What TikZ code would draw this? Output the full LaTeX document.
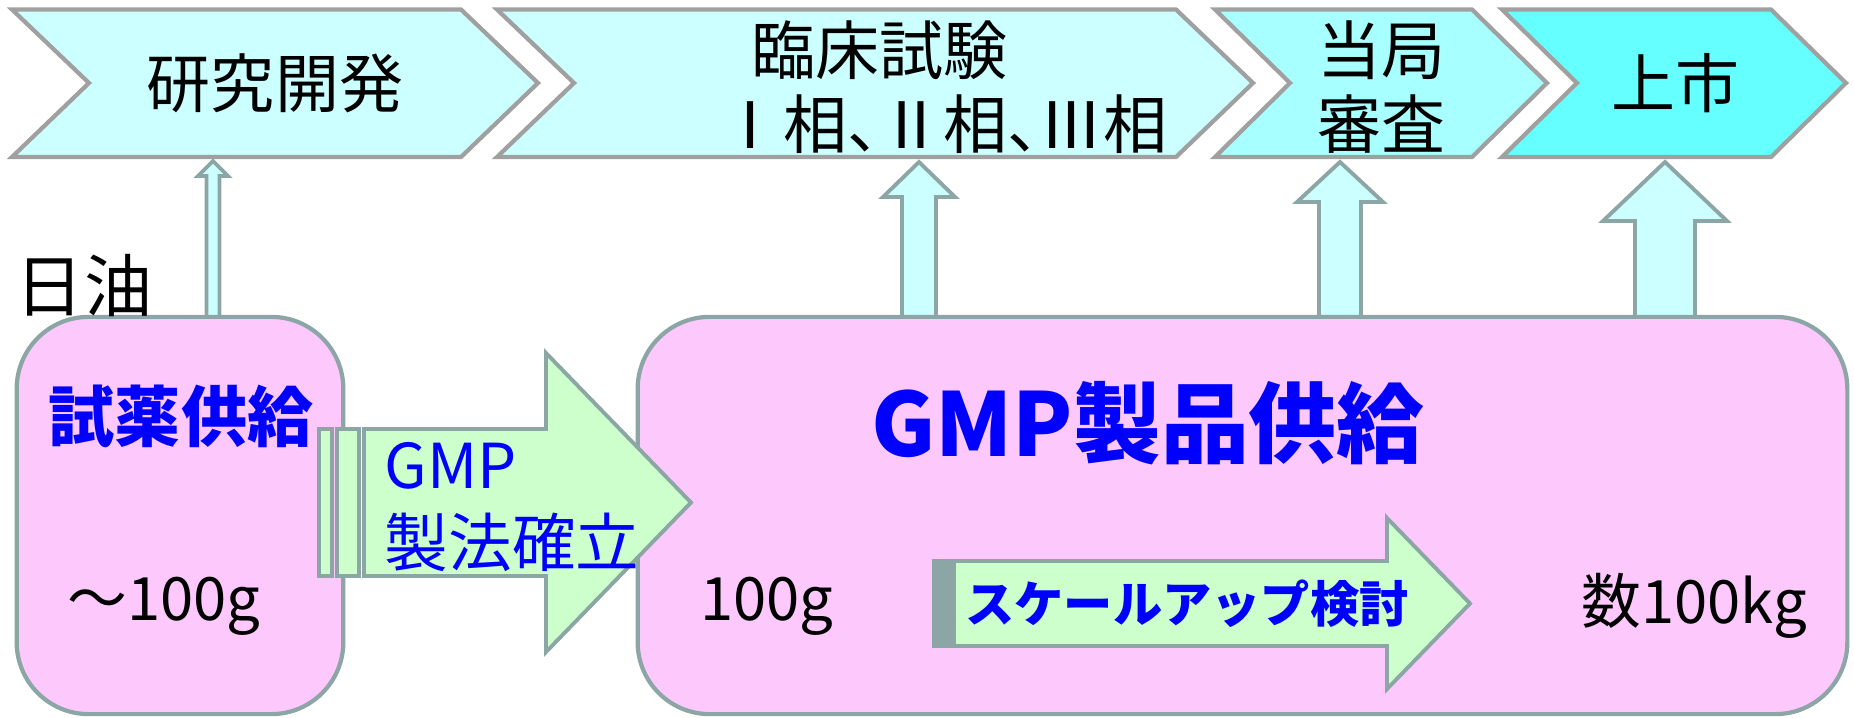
\documentclass[tikz,border=0pt]{standalone}
\usepackage{fontspec}
\setmainfont{Noto Sans CJK JP}
\usetikzlibrary{calc}
\definecolor{chevline}{HTML}{A0A0A0}
\definecolor{cyanA}{HTML}{CCFFFF}
\definecolor{cyanB}{HTML}{A8FFFF}
\definecolor{cyanC}{HTML}{66FFFF}
\definecolor{boxline}{HTML}{8CA5A5}
\definecolor{pinkfill}{HTML}{FDC9FD}
\definecolor{greenfill}{HTML}{CCFFCC}
\definecolor{txtblue}{HTML}{0000FF}
\newcommand\blockup[5]{%
  \draw[uparrow] ($(#1)+(-#3,0)$) -- ($(#2)+(-#3,#5)$) -- ($(#2)+(-#4,#5)$) -- (#2)
    -- ($(#2)+(#4,#5)$) -- ($(#2)+(#3,#5)$) -- ($(#1)+(#3,0)$) -- cycle;}
\newcommand\fsz[1]{\fontsize{#1}{1.2\dimexpr#1pt\relax}\selectfont}
\begin{document}
\begin{tikzpicture}[x=0.01cm,y=-0.01cm,
  chev/.style={draw=chevline,line width=1.2pt,line join=miter},
  uparrow/.style={draw=boxline,fill=cyanA,line width=1.1pt,line join=miter},
  garrow/.style={draw=boxline,fill=greenfill,line width=1.1pt,line join=miter},
  box/.style={rectangle,draw=boxline,fill=pinkfill,line width=1.2pt,rounded corners=0.72cm,minimum height=3.97cm},
  lbl/.style={inner sep=0pt,text=black},
  blbl/.style={inner sep=0pt,text=txtblue},
  chevtext/.style={lbl,font=\fsz{18.2}}]
\useasboundingbox (0,0) rectangle (1854,718);
% chevrons
\draw[chev,fill=cyanA] (12,9.5) -- (461,9.5) -- (538,83) -- (461,157) -- (12,157) -- (89,83) -- cycle;
\draw[chev,fill=cyanA] (497,9.5) -- (1176,9.5) -- (1253,83) -- (1176,157) -- (497,157) -- (574,83) -- cycle;
\draw[chev,fill=cyanB] (1215,9.5) -- (1472,9.5) -- (1547,83) -- (1472,157) -- (1215,157) -- (1290,83) -- cycle;
\draw[chev,fill=cyanC] (1502,9.5) -- (1771,9.5) -- (1846,83) -- (1771,157) -- (1502,157) -- (1577,83) -- cycle;
\node[chevtext] (c1) at (275,83) {研究開発};
\node[chevtext] (c2a) at (879,50) {臨床試験};
\node[chevtext] (c2b) at (943,124) {\addfontfeature{RawFeature=+halt}Ⅰ相、Ⅱ相、Ⅲ相};
\node[chevtext] (c3a) at (1381,50) {当局};
\node[chevtext] (c3b) at (1381,124) {審査};
\node[chevtext] (c4) at (1675,83) {上市};
% up arrows
\coordinate (a1b) at (213,317); \coordinate (a1t) at (213,161);
\coordinate (a2b) at (919,317); \coordinate (a2t) at (919,162);
\coordinate (a3b) at (1340,317); \coordinate (a3t) at (1340,162);
\coordinate (a4b) at (1665,317); \coordinate (a4t) at (1665,162);
\blockup{a1b}{a1t}{6.5}{15}{15}
\blockup{a2b}{a2t}{17}{36}{35}
\blockup{a3b}{a3t}{21}{43}{40}
\blockup{a4b}{a4t}{30}{62}{59}
% boxes
\node[box,minimum width=3.265cm] (lbox) at (180,515.5) {};
\node[box,minimum width=12.09cm] (gbox) at (1242.5,515.5) {};
% GMP striped arrow
\draw[garrow] (319,429) rectangle (332,576);
\draw[garrow] (337,429) rectangle (359,576);
\draw[garrow] (364,429) -- (546,429) -- (546,353) -- (691,502.5) -- (546,652) -- (546,576) -- (364,576) -- cycle;
% scale-up arrow
\draw[garrow,fill=boxline] (934,561) rectangle (944,646);
\draw[garrow] (947,561) rectangle (950,646);
\draw[garrow] (954,561) -- (1387,561) -- (1387,518) -- (1470,603.5) -- (1387,689) -- (1387,646) -- (954,646) -- cycle;
% texts
\node[lbl,font=\fsz{19.4}] (nichiyu) at (84,286) {日油};
\node[blbl,font=\fsz{18.8}\bfseries] (shiyaku) at (181,416) {試薬供給};
\node[lbl,font=\fsz{17}] (q1) at (164,606) {～100g};
\node[blbl,font=\fsz{17.6},anchor=west] (gmp1) at (384,466) {GMP};
\node[blbl,font=\fsz{18.1},anchor=west] (seiho) at (384,542) {製法確立};
\node[blbl,font=\fsz{25}\bfseries] (gmp2) at (1148,423) {GMP製品供給};
\node[lbl,font=\fsz{17}] (q2) at (767,606) {100g};
\node[lbl,font=\fsz{17}] (q3) at (1694,606) {数100kg};
\node[blbl,font=\fsz{14}\bfseries] (scale) at (1187,604) {スケールアップ検討};
\end{tikzpicture}
\end{document}
